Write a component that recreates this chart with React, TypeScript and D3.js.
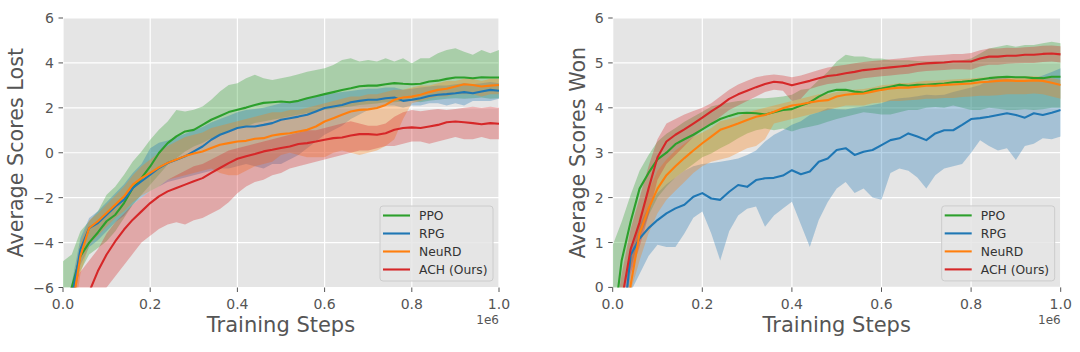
import React from "react";
import * as d3 from "d3";

// ---------- data ----------
const X = [0, 0.02, 0.04, 0.06, 0.08, 0.1, 0.12, 0.14, 0.16, 0.18,
  0.2, 0.22, 0.24, 0.26, 0.28, 0.3, 0.32, 0.34, 0.36, 0.38,
  0.4, 0.42, 0.44, 0.46, 0.48, 0.5, 0.52, 0.54, 0.56, 0.58,
  0.6, 0.62, 0.64, 0.66, 0.68, 0.7, 0.72, 0.74, 0.76, 0.78,
  0.8, 0.82, 0.84, 0.86, 0.88, 0.9, 0.92, 0.94, 0.96, 0.98, 1.0];

const SERIES = ["PPO", "RPG", "NeuRD", "ACH (Ours)"];
const COLORS = ["#2ca02c", "#1f77b4", "#ff7f0e", "#d62728"];
const X_TICKS = [0, 0.2, 0.4, 0.6, 0.8, 1.0];
const LEFT_Y_TICKS = [-6, -4, -2, 0, 2, 4, 6];
const RIGHT_Y_TICKS = [0, 1, 2, 3, 4, 5, 6];

// Left: Average Scores Lost
const L_PPO = [-7.5,-6.0,-4.6,-4.0,-3.55,-3.05,-2.76,-2.24,-1.57,-1.13, -0.61,-0.01,0.43,0.73,0.95,1.02,1.24,1.47,1.64,1.81, 1.91,2.01,2.13,2.22,2.25,2.28,2.25,2.31,2.43,2.52, 2.61,2.70,2.79,2.87,2.96,2.99,2.99,3.05,3.10,3.07, 3.05,3.07,3.17,3.21,3.29,3.35,3.35,3.32,3.36,3.35, 3.35];
const L_PPO_HI = [-4.83,-4.53,-3.5,-3.05,-2.61,-1.87,-1.5,-0.98,-0.39,0.06, 0.58,1.02,1.39,1.9,1.84,1.91,2.06,2.36,2.73,3.02, 3.10,3.32,3.47,3.32,3.24,3.32,3.39,3.5,3.61,3.69, 3.76,3.91,4.13,4.21,4.06,4.13,4.06,4.21,4.06,4.21, 3.99,4.21,4.21,4.43,4.58,4.65,4.5,4.36,4.58,4.43, 4.58];
const L_PPO_LO = [-6.5,-6.2,-5.27,-4.53,-4.24,-3.94,-3.5,-2.9,-2.31,-1.87, -1.42,-0.98,-0.53,-0.24,0.06,0.28,0.43,0.65,0.8,0.95, 1.1,1.17,1.32,1.39,1.47,1.54,1.61,1.69,1.76,1.84, 1.91,1.96,2.01,2.06,2.13,2.16,2.19,2.25,2.25,2.28, 2.31,2.25,2.31,2.36,2.4,2.43,2.4,2.43,2.46,2.4, 2.43];

const L_RPG = [-8.5,-6.5,-4.3,-3.35,-3.13,-2.76,-2.39,-2.09,-1.57,-1.27, -0.98,-0.68,-0.46,-0.31,-0.16,0.06,0.28,0.58,0.8,0.95, 1.1,1.17,1.17,1.24,1.32,1.47,1.54,1.61,1.69,1.84, 1.99,2.06,2.13,2.25,2.31,2.36,2.36,2.43,2.46,2.31, 2.36,2.43,2.53,2.58,2.61,2.65,2.70,2.65,2.73,2.8, 2.76];
const L_RPG_HI = [-7.5,-5.8,-3.8,-2.9,-2.6,-2.2,-1.8,-1.4,-0.9,-0.5, 0.2,0.45,0.55,0.7,0.85,1.0,1.15,1.35,1.5,1.65, 1.8,1.9,1.95,2.0,2.1,2.2,2.3,2.35,2.4,2.5, 2.6,2.65,2.7,2.75,2.8,2.85,2.85,2.9,2.9,2.8, 2.85,2.9,2.95,3.0,3.0,3.05,3.1,3.05,3.1,3.15, 3.1];
const L_RPG_LO = [-9,-7.2,-5.0,-4.2,-3.9,-3.5,-3.1,-2.8,-2.3,-2.0, -1.7,-1.5,-1.3,-1.2,-1.1,-1.0,-0.9,-0.8,-0.7,-0.7, -0.6,-0.5,-0.6,-0.7,-0.5,-0.5,-0.3,-0.1,0.2,0.5, 0.8,1.0,1.2,1.5,1.7,1.9,2.0,2.1,2.1,2.0, 2.1,2.1,2.2,2.2,2.1,2.2,2.1,2.3,2.3,2.3, 2.4];

const L_NEURD = [-9,-7.0,-4.6,-3.35,-3.05,-2.68,-2.31,-1.94,-1.42,-1.13, -0.9,-0.65,-0.45,-0.3,-0.15,-0.03,0.06,0.21,0.36,0.43, 0.50,0.53,0.62,0.65,0.77,0.83,0.87,0.95,1.02,1.17, 1.39,1.54,1.69,1.84,1.91,1.93,1.99,2.13,2.36,2.46, 2.5,2.58,2.7,2.8,2.85,2.95,3.05,3.02,2.95,2.99, 3.02];
const L_NEURD_HI = [-8,-6.0,-4.0,-3.0,-2.7,-2.3,-1.9,-1.5,-1.0,-0.6, -0.3,0.0,0.3,0.5,0.7,0.8,0.9,1.1,1.2,1.3, 1.4,1.5,1.6,1.7,1.8,1.8,1.9,1.9,2.0,2.1, 2.2,2.3,2.4,2.5,2.5,2.6,2.6,2.7,2.8,2.8, 2.9,3.0,3.0,3.1,3.2,3.2,3.3,3.3,3.2,3.3, 3.3];
const L_NEURD_LO = [-10,-8,-5.4,-4.1,-3.7,-3.3,-2.9,-2.6,-2.2,-1.9, -1.7,-1.5,-1.2,-1.1,-1.0,-0.9,-0.8,-0.7,-0.9,-1.0, -1.0,-0.8,-0.6,-0.5,-0.4,-0.1,0.0,-0.1,-0.2,-0.2, -0.2,0.0,0.1,0.0,-0.1,0.0,0.1,0.3,0.6,1.5, 2.2,2.3,2.4,2.5,2.5,2.6,2.6,2.6,2.5,2.6, 2.6];

const L_ACH = [-12,-10,-8,-6.2,-5.27,-4.53,-3.94,-3.42,-2.98,-2.61, -2.24,-1.94,-1.72,-1.57,-1.42,-1.27,-1.13,-0.9,-0.68,-0.46, -0.27,-0.16,-0.06,0.06,0.13,0.21,0.28,0.39,0.43,0.5, 0.58,0.65,0.68,0.77,0.83,0.83,0.8,0.87,1.02,1.1, 1.13,1.1,1.17,1.24,1.36,1.39,1.36,1.32,1.27,1.32, 1.29];
const L_ACH_HI = [-6.5,-5.9,-5.3,-4.8,-4.3,-3.6,-3.1,-2.7,-2.3,-2.0, -1.7,-1.5,-1.2,-1.0,-0.8,-0.6,-0.5,-0.3,-0.1,0.1, 0.2,0.3,0.4,0.5,0.6,0.7,0.8,0.9,1.0,1.0, 1.1,1.2,1.3,1.4,1.3,1.2,1.2,1.3,1.6,1.8, 1.9,1.85,1.9,1.95,1.9,1.95,2.0,2.05,2.0,2.05, 2.0];
const L_ACH_LO = [-14,-12,-10,-7.5,-6.5,-6.0,-5.5,-5.0,-4.5,-4.0, -3.7,-3.4,-3.2,-3.1,-3.2,-3.0,-2.9,-2.7,-2.5,-2.2, -1.8,-1.5,-1.3,-1.2,-1.0,-0.9,-0.7,-0.6,-0.5,-0.4, -0.3,-0.2,-0.1,0.0,0.1,0.1,0.2,0.3,0.3,0.4, 0.5,0.5,0.4,0.5,0.6,0.7,0.6,0.6,0.7,0.6, 0.6];

// Right: Average Scores Won
const R_PPO = [-1.0,0.6,1.46,2.2,2.55,2.85,3.0,3.19,3.3,3.4, 3.52,3.64,3.75,3.82,3.88,3.89,3.88,3.85,3.9,3.95, 3.97,4.05,4.12,4.25,4.35,4.4,4.4,4.36,4.34,4.4, 4.43,4.47,4.51,4.49,4.51,4.51,4.53,4.54,4.57,4.58, 4.6,4.63,4.66,4.68,4.69,4.68,4.68,4.66,4.66,4.69, 4.69];
const R_PPO_HI = [0.94,1.46,2.06,2.6,2.95,3.25,3.42,3.55,3.69,3.8, 3.91,4.03,4.08,4.12,4.15,4.17,4.21,4.21,4.23,4.25, 4.29,4.4,4.43,4.62,4.8,5.03,5.18,5.14,5.14,5.1, 5.1,5.06,5.06,5.06,5.04,5.03,5.03,5.04,5.03,5.06, 5.1,5.21,5.32,5.36,5.4,5.36,5.4,5.4,5.44,5.47, 5.44];
const R_PPO_LO = [-0.2,-0.1,0.42,1.1,1.6,2.0,2.25,2.45,2.6,2.75, 2.9,2.98,3.1,3.2,3.32,3.43,3.5,3.54,3.5,3.54, 3.47,3.54,3.58,3.62,3.69,3.75,3.8,3.85,3.9,3.88, 3.85,3.85,3.9,3.95,3.95,4.0,4.02,4.0,4.05,4.0, 3.95,3.95,4.0,3.98,3.95,3.95,3.97,3.95,3.97,4.0, 4.0];

const R_RPG = [-3,-1.2,0.72,1.09,1.32,1.5,1.65,1.76,1.84,2.02, 2.1,1.98,1.95,2.13,2.28,2.24,2.39,2.43,2.44,2.49, 2.61,2.52,2.58,2.8,2.87,3.06,3.1,2.95,3.02,3.06, 3.17,3.28,3.32,3.43,3.36,3.28,3.43,3.5,3.5,3.62, 3.75,3.77,3.8,3.84,3.88,3.84,3.78,3.88,3.84,3.89, 3.95];
const R_RPG_HI = [-2,-0.5,0.9,1.4,1.8,2.1,2.3,2.45,2.6,2.7, 2.75,2.77,2.8,2.83,2.87,2.95,3.05,3.25,3.4,3.5, 3.62,3.7,3.84,3.9,3.99,3.97,3.96,4.0,4.03,4.06, 4.1,4.18,4.21,4.23,4.26,4.29,4.28,4.29,4.35,4.4, 4.45,4.51,4.62,4.69,4.66,4.62,4.58,4.65,4.72,4.8, 4.88];
const R_RPG_LO = [-4,-2,-0.1,0.3,0.7,0.95,0.9,0.9,1.2,1.55, 1.69,1.2,0.6,1.25,1.6,1.75,1.8,1.35,1.6,1.76, 1.91,1.4,0.9,1.5,1.9,2.2,2.35,2.1,2.2,2.0, 1.95,2.55,2.65,2.6,2.45,2.2,2.5,2.65,2.7,2.75, 3.0,3.28,3.15,3.05,3.1,2.84,3.15,3.2,3.32,3.3, 3.36];

const R_NEURD = [-4,-2,0.05,1.2,1.75,2.2,2.5,2.7,2.88,3.05, 3.21,3.36,3.51,3.58,3.65,3.73,3.8,3.84,3.91,3.99, 4.05,4.08,4.12,4.15,4.17,4.25,4.29,4.31,4.32,4.36, 4.4,4.43,4.45,4.45,4.47,4.49,4.49,4.51,4.52,4.53, 4.54,4.57,4.58,4.6,4.61,4.6,4.6,4.61,4.6,4.56, 4.51];
const R_NEURD_HI = [-3,-1.5,0.5,1.6,2.15,2.6,2.85,3.05,3.2,3.35, 3.45,3.55,3.7,3.75,3.8,3.9,3.95,4.0,4.05,4.1, 4.15,4.2,4.25,4.3,4.3,4.35,4.38,4.4,4.42,4.45, 4.5,4.52,4.55,4.55,4.58,4.6,4.6,4.62,4.63,4.64, 4.65,4.67,4.68,4.7,4.7,4.69,4.7,4.7,4.69,4.66, 4.62];
const R_NEURD_LO = [-5,-3,-0.1,0.6,1.2,1.65,1.95,2.15,2.35,2.55, 2.7,2.8,2.85,2.9,3.0,3.1,3.15,3.3,3.65,3.7, 3.75,3.8,3.85,3.9,3.95,4.0,4.05,4.05,4.05,4.1, 4.12,4.15,4.15,4.17,4.18,4.2,4.2,4.22,4.22,4.24, 4.25,4.27,4.27,4.28,4.3,4.3,4.3,4.32,4.3,4.25, 4.2];

const R_ACH = [-2,-0.3,0.85,1.45,2.2,2.9,3.25,3.4,3.52,3.65, 3.78,3.92,4.05,4.2,4.3,4.38,4.46,4.53,4.58,4.56, 4.5,4.55,4.6,4.66,4.71,4.73,4.77,4.8,4.84,4.86, 4.88,4.9,4.92,4.94,4.97,4.99,5.0,5.01,5.03,5.03, 5.03,5.1,5.14,5.14,5.16,5.16,5.18,5.18,5.2,5.21, 5.19];
const R_ACH_HI = [-1,0.3,1.3,2.0,2.7,3.3,3.65,3.75,3.85,3.93, 4.0,4.1,4.25,4.4,4.52,4.6,4.68,4.72,4.74,4.72, 4.68,4.72,4.78,4.84,4.9,4.93,4.96,4.99,5.02,5.04, 5.06,5.08,5.1,5.12,5.14,5.16,5.17,5.18,5.2,5.2, 5.22,5.28,5.32,5.32,5.34,5.33,5.35,5.36,5.38,5.39, 5.37];
const R_ACH_LO = [-3,-1.0,0.3,0.9,1.6,2.4,2.75,2.95,3.15,3.35, 3.5,3.65,3.8,3.95,4.05,4.15,4.25,4.35,4.4,4.38, 4.15,4.2,4.42,4.48,4.53,4.55,4.58,4.62,4.66,4.68, 4.7,4.72,4.74,4.76,4.8,4.82,4.83,4.84,4.86,4.86, 4.85,4.92,4.96,4.96,4.98,4.99,5.0,5.0,5.02,5.03, 5.01];

const LEFT_DATA = [
  { mean: L_PPO, hi: L_PPO_HI, lo: L_PPO_LO },
  { mean: L_RPG, hi: L_RPG_HI, lo: L_RPG_LO },
  { mean: L_NEURD, hi: L_NEURD_HI, lo: L_NEURD_LO },
  { mean: L_ACH, hi: L_ACH_HI, lo: L_ACH_LO },
];
const RIGHT_DATA = [
  { mean: R_PPO, hi: R_PPO_HI, lo: R_PPO_LO },
  { mean: R_RPG, hi: R_RPG_HI, lo: R_RPG_LO },
  { mean: R_NEURD, hi: R_NEURD_HI, lo: R_NEURD_LO },
  { mean: R_ACH, hi: R_ACH_HI, lo: R_ACH_LO },
];

const FONT = "DejaVu Sans";
const TEXT_COLOR = "#555555";

type PanelProps = {
  id: string;
  left: number; right: number; top: number; bottom: number;
  yDomain: [number, number];
  yTicks: number[];
  data: { mean: number[]; hi: number[]; lo: number[] }[];
  ylabel: string;
  ylabelX: number;
};

const fmtY = (v: number) => (v < 0 ? "\u2212" + Math.abs(v) : String(v));
const fmtX = d3.format(".1f");

function Panel({ id, left, right, top, bottom, yDomain, yTicks, data, ylabel, ylabelX }: PanelProps) {
  const x = d3.scaleLinear().domain([0, 1]).range([left, right]);
  const y = d3.scaleLinear().domain(yDomain).range([bottom, top]);
  const line = d3.line<number>().x((_, i) => x(X[i])).y((v) => y(v));

  const legendW = 113, legendH = 75;
  const lx = right - 6 - legendW;
  const ly = bottom - 6.5 - legendH;

  return (
    <g>
      <defs>
        <clipPath id={id}>
          <rect x={left} y={top} width={right - left} height={bottom - top} />
        </clipPath>
      </defs>
      <rect x={left} y={top} width={right - left} height={bottom - top} fill="#e5e5e5" />
      {X_TICKS.map((t) => (
        <line key={"gx" + t} x1={x(t)} x2={x(t)} y1={top} y2={bottom} stroke="#ffffff" strokeWidth={1.2} />
      ))}
      {yTicks.map((t) => (
        <line key={"gy" + t} x1={left} x2={right} y1={y(t)} y2={y(t)} stroke="#ffffff" strokeWidth={1.2} />
      ))}
      <g clipPath={`url(#${id})`}>
        {data.map((s, k) => {
          const a = d3.area<number>()
            .x((_, i) => x(X[i]))
            .y0((_, i) => y(s.lo[i]))
            .y1((_, i) => y(s.hi[i]));
          return <path key={"b" + k} d={a(s.mean) || ""} fill={COLORS[k]} fillOpacity={0.32} stroke="none" />;
        })}
        {data.map((s, k) => (
          <path key={"l" + k} d={line(s.mean) || ""} fill="none" stroke={COLORS[k]} strokeWidth={2.1} strokeLinejoin="round" />
        ))}
      </g>
      {X_TICKS.map((t) => (
        <g key={"tx" + t}>
          <line x1={x(t)} x2={x(t)} y1={bottom} y2={bottom + 4.5} stroke={TEXT_COLOR} strokeWidth={1} />
          <text x={x(t)} y={308.5} textAnchor="middle" fontFamily={FONT} fontSize={14} fill={TEXT_COLOR}>{fmtX(t)}</text>
        </g>
      ))}
      {yTicks.map((t) => (
        <g key={"ty" + t}>
          <line x1={left - 4.5} x2={left} y1={y(t)} y2={y(t)} stroke={TEXT_COLOR} strokeWidth={1} />
          <text x={left - 9} y={y(t) + 5} textAnchor="end" fontFamily={FONT} fontSize={14} fill={TEXT_COLOR}>{fmtY(t)}</text>
        </g>
      ))}
      <text x={right} y={324} textAnchor="end" fontFamily={FONT} fontSize={12} fill={TEXT_COLOR}>1e6</text>
      <text x={(left + right) / 2} y={332} textAnchor="middle" fontFamily={FONT} fontSize={21} fill={TEXT_COLOR}>Training Steps</text>
      <text transform={`translate(${ylabelX},${(top + bottom) / 2}) rotate(-90)`} textAnchor="middle" fontFamily={FONT} fontSize={20.7} fill={TEXT_COLOR}>{ylabel}</text>
      <rect x={lx} y={ly} width={legendW} height={legendH} rx={3} fill="#e5e5e5" fillOpacity={0.85} stroke="#cccccc" strokeWidth={1} />
      {SERIES.map((name, k) => (
        <g key={"lg" + k}>
          <line x1={lx + 3} x2={lx + 30} y1={ly + 9.5 + k * 18} y2={ly + 9.5 + k * 18} stroke={COLORS[k]} strokeWidth={2.1} />
          <text x={lx + 39} y={ly + 14 + k * 18} fontFamily={FONT} fontSize={12.3} fill="#333333">{name}</text>
        </g>
      ))}
    </g>
  );
}

export default function App() {
  return (
    <svg width={1080} height={352} style={{ position: "absolute", left: 0, top: 0, display: "block" }}>
      <rect x={0} y={0} width={1080} height={352} fill="#ffffff" />
      <Panel id="clipL" left={63} right={499} top={18} bottom={287.5} yDomain={[-6, 6]} yTicks={LEFT_Y_TICKS}
        data={LEFT_DATA} ylabel="Average Scores Lost" ylabelX={23} />
      <Panel id="clipR" left={612.7} right={1060.7} top={18} bottom={287.4} yDomain={[0, 6]} yTicks={RIGHT_Y_TICKS}
        data={RIGHT_DATA} ylabel="Average Scores Won" ylabelX={585} />
    </svg>
  );
}
